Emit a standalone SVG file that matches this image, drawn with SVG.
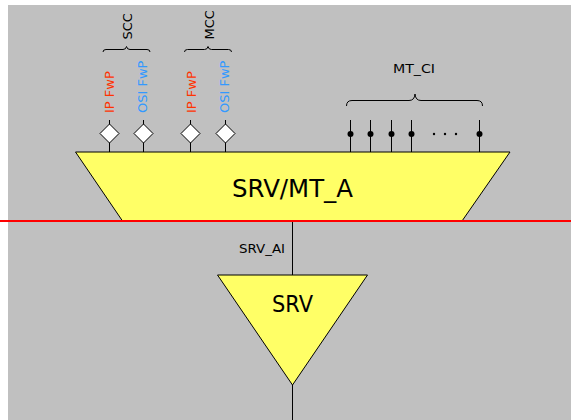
<svg xmlns="http://www.w3.org/2000/svg" width="571" height="420" viewBox="0 0 571 420">
<style>
  .t{font-family:"DejaVu Sans","Liberation Sans",sans-serif;fill:#000}
  .s{font-size:13px}
  .ip{fill:#FF3300}
  .osi{fill:#3399FF}
  .shape{fill:#FFFF66;stroke:#000;stroke-width:1}
  .ln{stroke:#000;stroke-width:1;fill:none}
  .dia{fill:#fff;stroke:#000;stroke-width:1}
</style>
<rect x="8" y="5" width="563" height="415" fill="#C0C0C0"/>
<g id="connectors">
  <line class="ln" x1="292.5" y1="221" x2="292.5" y2="275"/>
  <line class="ln" x1="292.5" y1="385" x2="292.5" y2="420"/>
  <line class="ln" x1="109.5" y1="120" x2="109.5" y2="152"/>
  <line class="ln" x1="143.5" y1="120" x2="143.5" y2="152"/>
  <line class="ln" x1="190.5" y1="120" x2="190.5" y2="152"/>
  <line class="ln" x1="225.5" y1="120" x2="225.5" y2="152"/>
  <line class="ln" x1="350.5" y1="120" x2="350.5" y2="152"/>
  <line class="ln" x1="370.5" y1="120" x2="370.5" y2="152"/>
  <line class="ln" x1="391.5" y1="120" x2="391.5" y2="152"/>
  <line class="ln" x1="411.5" y1="120" x2="411.5" y2="152"/>
  <line class="ln" x1="479.5" y1="120" x2="479.5" y2="152"/>
</g>
<g id="srv_mt_a">
  <polygon class="shape" points="75.5,152 510,152 462,221 122.5,221"/>
  <text class="t" x="292.5" y="197" font-size="24" text-anchor="middle" textLength="121" lengthAdjust="spacingAndGlyphs">SRV/MT_A</text>
</g>
<line x1="0" y1="221" x2="571" y2="221" stroke="#FF0000" stroke-width="2"/>
<g id="srv">
  <polygon class="shape" points="217.5,275 367.5,275 292.5,385"/>
  <text class="t" x="292.5" y="312" font-size="23" text-anchor="middle" textLength="41" lengthAdjust="spacingAndGlyphs">SRV</text>
</g>
<g id="srv_ai_label">
  <text class="t s" x="285" y="253" text-anchor="end" textLength="46" lengthAdjust="spacingAndGlyphs">SRV_AI</text>
</g>
<g id="pins">
  <polygon class="dia" points="109.5,124 119,133.5 109.5,143 100,133.5"/>
  <polygon class="dia" points="143.5,124 153,133.5 143.5,143 134,133.5"/>
  <polygon class="dia" points="190.5,124 200,133.5 190.5,143 181,133.5"/>
  <polygon class="dia" points="225.5,124 235,133.5 225.5,143 216,133.5"/>
  <circle cx="350.5" cy="134" r="3"/>
  <circle cx="370.5" cy="134" r="3"/>
  <circle cx="391.5" cy="134" r="3"/>
  <circle cx="411.5" cy="134" r="3"/>
  <circle cx="479.5" cy="134" r="3"/>
  <circle cx="434" cy="134" r="1.2"/>
  <circle cx="445" cy="134" r="1.2"/>
  <circle cx="456" cy="134" r="1.2"/>
</g>
<g id="pin_labels">
  <text class="t s ip" transform="translate(113.5,113) rotate(-90)">IP FwP</text>
  <text class="t s osi" transform="translate(147,113) rotate(-90)">OSI FwP</text>
  <text class="t s ip" transform="translate(196,113) rotate(-90)">IP FwP</text>
  <text class="t s osi" transform="translate(228.5,113) rotate(-90)">OSI FwP</text>
</g>
<g id="scc">
  <path class="ln" d="M103,52 Q103,49.5 106,49.5 L123,49.5 Q126,49.5 126.5,46.5 Q127,49.5 130,49.5 L147,49.5 Q150,49.5 150,52"/>
  <text class="t s" transform="translate(131.5,39.5) rotate(-90)">SCC</text>
</g>
<g id="mcc">
  <path class="ln" d="M184.5,52 Q184.5,49.5 187.5,49.5 L204.5,49.5 Q207.5,49.5 208,46.5 Q208.5,49.5 211.5,49.5 L228.5,49.5 Q231.5,49.5 231.5,52"/>
  <text class="t s" transform="translate(213.5,39.5) rotate(-90)">MCC</text>
</g>
<g id="mt_ci">
  <path class="ln" d="M346.5,106 Q346.5,100.5 352,100.5 L409,100.5 Q414.5,100.5 415,94 Q415.5,100.5 421,100.5 L477,100.5 Q482.5,100.5 482.5,106"/>
  <text class="t s" x="414" y="73" text-anchor="middle" textLength="42" lengthAdjust="spacingAndGlyphs">MT_CI</text>
</g>
</svg>
